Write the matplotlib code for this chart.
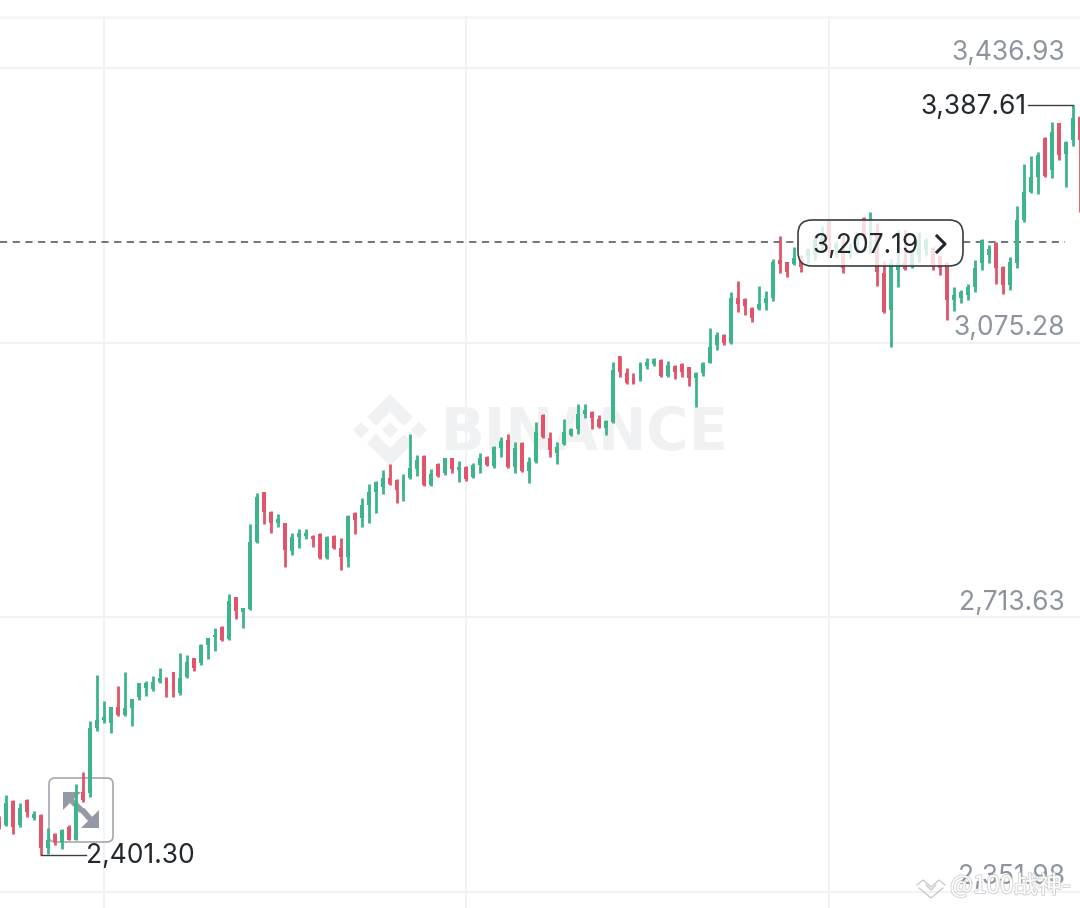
import matplotlib
matplotlib.use('Agg')
import matplotlib.pyplot as plt
import matplotlib.patheffects as pe
from matplotlib.patches import FancyBboxPatch, Polygon
from matplotlib.transforms import Affine2D, blended_transform_factory

plt.rcParams['font.family'] = ['Inter', 'DejaVu Sans']

W, H = 1080, 908

# candles, left to right
opens = [2444, 2440, 2472, 2440, 2473, 2450, 2453, 2410, 2428, 2418, 2438, 2421, 2484, 2482, 2568, 2579,
         2575, 2596, 2585, 2594, 2609, 2621, 2619, 2629, 2634, 2642, 2614, 2635, 2660, 2654, 2677, 2688,
         2701, 2685, 2740, 2721, 2725, 2813, 2879, 2852, 2838, 2838, 2801, 2820, 2821, 2821, 2823, 2792,
         2821, 2805, 2793, 2851, 2845, 2862, 2879, 2885, 2897, 2894, 2881, 2897, 2909, 2926, 2888, 2916,
         2904, 2923, 2908, 2912, 2899, 2914, 2925, 2913, 2936, 2947, 2912, 2943, 2906, 2918, 2980, 2950,
         2930, 2942, 2954, 2962, 2981, 2984, 2975, 2963, 2971, 3058, 3035, 3029, 3027, 3045, 3047, 3053,
         3031, 3045, 3047, 3043, 3029, 3035, 3049, 3072, 3085, 3075, 3134, 3133, 3121, 3120, 3128, 3134,
         3184, 3181, 3179, 3189, 3189, 3191, 3203, 3236, 3200, 3204, 3191, 3197, 3239, 3214, 3217, 3167,
         3118, 3171, 3181, 3178, 3191, 3197, 3200, 3189, 3180, 3131, 3134, 3138, 3149, 3180, 3191, 3206,
         3175, 3151, 3180, 3237, 3274, 3293, 3345, 3303, 3364, 3324, 3342, 3372]
highs = [2452, 2480, 2473, 2469, 2475, 2458, 2455, 2436, 2430, 2435, 2440, 2494, 2510, 2577, 2638, 2604,
         2596, 2623, 2642, 2606, 2627, 2630, 2636, 2647, 2635, 2642, 2667, 2664, 2660, 2679, 2687, 2700,
         2702, 2744, 2740, 2726, 2837, 2877, 2879, 2854, 2850, 2838, 2825, 2830, 2830, 2822, 2825, 2821,
         2822, 2818, 2848, 2852, 2871, 2889, 2893, 2908, 2916, 2896, 2902, 2955, 2927, 2927, 2909, 2917,
         2923, 2923, 2920, 2913, 2917, 2930, 2926, 2939, 2951, 2955, 2945, 2945, 2925, 2971, 2981, 2958,
         2945, 2975, 2963, 2995, 2995, 2985, 2980, 2974, 3050, 3058, 3042, 3035, 3050, 3055, 3055, 3054,
         3051, 3046, 3049, 3043, 3037, 3050, 3095, 3089, 3087, 3142, 3156, 3134, 3122, 3150, 3143, 3185,
         3216, 3181, 3201, 3191, 3200, 3217, 3229, 3237, 3209, 3217, 3206, 3221, 3241, 3247, 3233, 3183,
         3185, 3224, 3224, 3197, 3221, 3213, 3201, 3191, 3181, 3149, 3145, 3153, 3184, 3212, 3204, 3208,
         3176, 3188, 3255, 3311, 3321, 3326, 3346, 3366, 3365, 3341, 3387.61, 3374]
lows = [2435, 2439, 2428, 2438, 2451, 2447, 2401.30, 2402, 2414, 2409, 2420, 2420, 2471, 2477, 2564, 2575,
        2561, 2584, 2584, 2571, 2605, 2610, 2617, 2627, 2609, 2609, 2611, 2634, 2643, 2651, 2659, 2669,
        2683, 2684, 2712, 2700, 2723, 2812, 2837, 2825, 2833, 2780, 2796, 2805, 2817, 2806, 2791, 2791,
        2804, 2776, 2780, 2823, 2833, 2838, 2851, 2876, 2888, 2864, 2867, 2896, 2900, 2887, 2887, 2899,
        2901, 2904, 2892, 2893, 2897, 2904, 2913, 2910, 2925, 2910, 2904, 2905, 2891, 2917, 2950, 2925,
        2916, 2941, 2952, 2955, 2976, 2962, 2963, 2954, 2970, 3030, 3021, 3021, 3025, 3041, 3045, 3030,
        3030, 3027, 3030, 3018, 2991, 3031, 3048, 3066, 3072, 3074, 3116, 3112, 3102, 3118, 3118, 3130,
        3167, 3162, 3178, 3168, 3180, 3184, 3195, 3188, 3188, 3167, 3187, 3193, 3210, 3193, 3150, 3114,
        3070, 3149, 3171, 3174, 3181, 3191, 3171, 3164, 3105, 3117, 3128, 3131, 3142, 3171, 3180, 3153,
        3139, 3145, 3174, 3234, 3272, 3271, 3293, 3292, 3316, 3280, 3334, 3247]
closes = [2438, 2469, 2438, 2463, 2457, 2455, 2410, 2420, 2418, 2434, 2421, 2469, 2473, 2568, 2579, 2582,
          2596, 2585, 2594, 2606, 2627, 2627, 2629, 2634, 2618, 2618, 2634, 2655, 2647, 2677, 2687, 2690,
          2684, 2735, 2722, 2726, 2813, 2872, 2852, 2838, 2843, 2802, 2820, 2825, 2825, 2817, 2792, 2820,
          2805, 2793, 2847, 2842, 2862, 2879, 2892, 2897, 2889, 2881, 2896, 2910, 2921, 2888, 2902, 2900,
          2923, 2909, 2912, 2896, 2914, 2923, 2914, 2938, 2946, 2912, 2936, 2906, 2918, 2958, 2951, 2934,
          2938, 2958, 2962, 2981, 2987, 2976, 2964, 2972, 3039, 3037, 3022, 3022, 3047, 3050, 3054, 3031,
          3046, 3037, 3037, 3029, 3035, 3049, 3070, 3085, 3075, 3134, 3126, 3124, 3108, 3126, 3134, 3181,
          3179, 3168, 3187, 3175, 3197, 3210, 3213, 3210, 3205, 3174, 3197, 3210, 3216, 3237, 3168, 3116,
          3180, 3180, 3172, 3195, 3210, 3210, 3179, 3174, 3131, 3138, 3142, 3149, 3174, 3210, 3199, 3174,
          3151, 3181, 3237, 3274, 3293, 3322, 3295, 3353, 3322, 3340, 3371, 3342]

# axis levels, current price, vertical grid positions
levels = [3436.93, 3075.28, 2713.63, 2351.98]
last_price = 3207.19
grid_candles = [15, 67, 119]
max_idx, min_idx = 154, 6

GREEN = '#3cb58b'
RED = '#e25469'
GRAY_TEXT = '#8c94a0'
DARK = '#23272e'
GRID = '#eff1f3'

fig = plt.figure(figsize=(W / 100, H / 100), dpi=100, facecolor='white')
ax = fig.add_axes([0, 0, 1, 1])
ax.set_xlim(0.115, 155.06)
ax.set_ylim(2330.9, 3526.46)
ax.axis('off')

# pixel positions for the decoration, y going down like in the screenshot
pix = Affine2D().scale(1 / W, -1 / H).translate(0, 1) + fig.transFigure
x_pix = blended_transform_factory(pix, ax.transData)

# watermark behind everything
c = '#f0f1f2'
cx, cy = 390, 430
for dx, dy in [(0, 0), (-29, 0), (29, 0)]:
    ax.add_patch(Polygon([(cx + dx - 8, cy + dy), (cx + dx, cy + dy - 8), (cx + dx + 8, cy + dy), (cx + dx, cy + dy + 8)],
                         transform=pix, fc=c, ec='none', zorder=0))
for s in [1, -1]:
    ax.add_patch(Polygon([(cx, cy - s * 36), (cx + 23, cy - s * 13), (cx + 14, cy - s * 4), (cx, cy - s * 18),
                          (cx - 14, cy - s * 4), (cx - 23, cy - s * 13)],
                         transform=pix, fc=c, ec='none', zorder=0))
ax.text(441, 450, 'BINANCE', transform=pix, family='DejaVu Sans', weight='bold', fontsize=41.5, color=c,
        ha='left', va='baseline', zorder=0)

# grid
ax.plot([0, W], [17, 17], transform=pix, color='#f5f6f7', lw=2.2, zorder=1)
for lv in levels:
    ax.axhline(lv, color=GRID, lw=1.3, zorder=1)
for g in grid_candles:
    ax.axvline(g, ymax=1 - 17 / H, color=GRID, lw=1.3, zorder=1)

# candles
idx = list(range(len(opens)))
colors = [GREEN if cl >= op else RED for op, cl in zip(opens, closes)]
ax.vlines(idx, lows, highs, colors=colors, lw=2.0, zorder=3)
ax.bar(idx, [abs(cl - op) for op, cl in zip(opens, closes)], bottom=[min(op, cl) for op, cl in zip(opens, closes)],
       width=0.56, color=colors, zorder=3)

# axis labels, sitting on their grid lines
for lv in levels:
    ax.annotate(f'{lv:,.2f}', xy=(1065, lv), xycoords=x_pix, xytext=(0, 5.6), textcoords='offset points',
                ha='right', va='baseline', fontsize=19, color=GRAY_TEXT, zorder=4)

# current price line
ax.plot([0, 798], [last_price, last_price], transform=x_pix, color='#4b5058', lw=1.1, ls=(0, (4.7, 3.6)), zorder=2)
ax.plot([963, 1065], [last_price, last_price], transform=x_pix, color='#4b5058', lw=1.1, ls=(0, (4.7, 3.6)), zorder=2)

box = FancyBboxPatch((798, 220), 165, 46, boxstyle='round,pad=0,rounding_size=14', transform=pix,
                     fc=(1, 1, 1, 0.8), ec='#3a3f46', lw=1.2, zorder=5)
ax.add_patch(box)
ax.annotate(f'{last_price:,.2f}', xy=(866, last_price), xycoords=x_pix, xytext=(0, -2.4), textcoords='offset points',
            ha='center', va='center', fontsize=19, color=DARK, zorder=6)
ax.plot([937, 945, 937], [236, 244, 252], transform=pix, color=DARK, lw=2.2, zorder=6)

# high and low marks
ax.plot([1028, 1073], [highs[max_idx], highs[max_idx]], transform=x_pix, color='#3a3f46', lw=1, zorder=4)
ax.annotate(f'{highs[max_idx]:,.2f}', xy=(1027, highs[max_idx]), xycoords=x_pix, xytext=(0, -1.4),
            textcoords='offset points', ha='right', va='center', fontsize=19, color=DARK, zorder=4)
ax.plot([41, 86], [lows[min_idx], lows[min_idx]], transform=x_pix, color='#3a3f46', lw=1, zorder=4)
ax.annotate(f'{lows[min_idx]:,.2f}', xy=(86, lows[min_idx]), xycoords=x_pix, xytext=(0, -1.4),
            textcoords='offset points', ha='left', va='center', fontsize=19, color=DARK, zorder=4)

# expand button
ax.add_patch(FancyBboxPatch((49, 778), 64, 64, boxstyle='round,pad=0,rounding_size=6', transform=pix,
                            fc=(1, 1, 1, 0.2), ec='#a3a8b0', lw=1.2, zorder=2))
icon = '#939aa5'
ax.add_patch(Polygon([(63, 792), (81, 792), (63, 810)], transform=pix, fc=icon, ec='none', zorder=2))
ax.plot([70, 80], [799, 809], transform=pix, color=icon, lw=4.2, zorder=2)
ax.add_patch(Polygon([(99, 828), (99, 810), (81, 828)], transform=pix, fc=icon, ec='none', zorder=2))
ax.plot([84, 92], [812, 821], transform=pix, color=icon, lw=4.2, zorder=2)

# reposting watermark, bottom right
ax.plot([917, 923, 931, 939, 945], [885, 880, 887, 880, 885], transform=pix, color='#c6c6c6', lw=0.9, zorder=7)
ax.plot([919, 931, 943], [888, 898, 888], transform=pix, color='#c6c6c6', lw=0.9, zorder=7)
ax.plot([926, 931, 936], [885, 890, 885], transform=pix, color='#c6c6c6', lw=0.9, zorder=7)
ax.text(950, 893, '@100战神-', transform=pix, family=['Noto Sans CJK SC', 'DejaVu Sans'], fontsize=17.5,
        color='white', ha='left', va='baseline', zorder=7,
        path_effects=[pe.withStroke(linewidth=1.4, foreground='#b9b9b9', alpha=0.6)])

fig.savefig('out.png', dpi=100)
